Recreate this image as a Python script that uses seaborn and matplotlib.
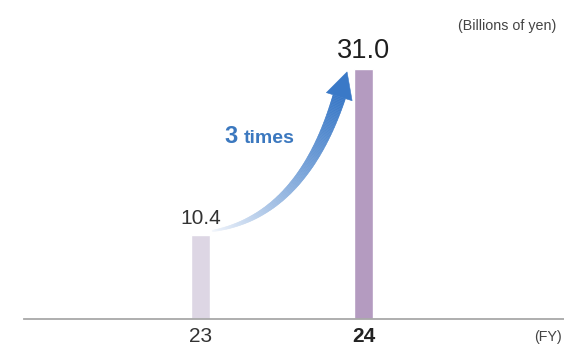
import numpy as np
import pandas as pd
import matplotlib
matplotlib.use("Agg")
import matplotlib.pyplot as plt
from matplotlib.patches import Polygon
from matplotlib.colors import to_rgb
import seaborn as sns

# --- data -------------------------------------------------------------
fiscal_years = ["23", "24"]
profit = [10.4, 31.0]
bar_colors = ["#DDD6E4", "#B49BC0"]
unit_label = "(Billions of yen)"
axis_label = "(FY)"
growth_number = "3"
growth_word = "times"

sns.set_theme(style="white")
plt.rcParams["font.family"] = ["Liberation Sans", "DejaVu Sans"]

W, H = 564, 345
fig = plt.figure(figsize=(W / 100, H / 100), dpi=100)
fig.patch.set_facecolor("white")
ax = fig.add_axes([24 / W, 26 / H, 1 - 24 / W, 319 / H])

df = pd.DataFrame({"fy": fiscal_years, "value": profit})
bar_w = 0.12
sns.barplot(data=df, x="fy", y="value", hue="fy", palette=bar_colors,
            width=bar_w, saturation=1, legend=False, ax=ax)

ax.set_xlim(-1.083, 2.23)
ax.set_ylim(0, 39.5)
ax.set_xlabel("")
ax.set_ylabel("")
ax.set_yticks([])
for side in ["top", "left", "right"]:
    ax.spines[side].set_visible(False)
ax.spines["bottom"].set_color("#A8A8A8")
ax.spines["bottom"].set_linewidth(1.3)
ax.tick_params(axis="x", length=0, pad=5.5, labelsize=15, labelcolor="#333333")
ax.get_xticklabels()[1].set_fontweight("bold")
ax.get_xticklabels()[1].set_color("#222222")

# value labels above the bars
label_sizes = [15, 19.5]
label_colors = ["#333333", "#1E1E1E"]
for i, v in enumerate(profit):
    ax.annotate(f"{v:.1f}", xy=(i, v), xytext=(0, 8), textcoords="offset points",
                ha="center", va="baseline", fontsize=label_sizes[i],
                color=label_colors[i])

# curved growth arrow with a pale-to-blue gradient, built in pixel space
fig.canvas.draw()
to_px = ax.transData.transform
to_data = ax.transData.inverted().transform

p0 = np.array(to_px((bar_w / 2 + 0.012, profit[0] + 0.5)))
p1 = np.array(to_px((0.62, profit[0] + 2.3)))
tip = np.array(to_px((0.899, profit[1] - 0.4)))
head_len, head_half = 26.0, 13.5
d = tip - p1
d /= np.linalg.norm(d)
p2 = tip - head_len * d

c_start = np.array(to_rgb("#F4F7FC"))
c_end = np.array(to_rgb("#3A79C7"))

ts = np.linspace(0, 1, 160)
pts = ((1 - ts) ** 2)[:, None] * p0 + (2 * (1 - ts) * ts)[:, None] * p1 + (ts ** 2)[:, None] * p2
tan = (2 * (1 - ts))[:, None] * (p1 - p0) + (2 * ts)[:, None] * (p2 - p1)
tan /= np.linalg.norm(tan, axis=1)[:, None]
nrm = np.column_stack([-tan[:, 1], tan[:, 0]])
half_w = 0.5 + 6.0 * ts ** 0.85
left = pts + nrm * half_w[:, None]
right = pts - nrm * half_w[:, None]

for k in range(len(ts) - 1):
    frac = ((ts[k] + ts[k + 1]) / 2) ** 0.9
    col = c_start + (c_end - c_start) * frac
    quad = np.array([left[k], left[k + 1], right[k + 1], right[k]])
    ax.add_patch(Polygon(to_data(quad), closed=True, facecolor=col,
                         edgecolor=col, linewidth=0.4, zorder=3))

n_end = np.array([-d[1], d[0]])
head = np.array([tip, p2 + n_end * head_half, p2 - n_end * head_half])
ax.add_patch(Polygon(to_data(head), closed=True, facecolor="#3A79C7",
                     edgecolor="#3A79C7", linewidth=0.4, zorder=3))

# "3 times" growth annotation
ax.text(0.144, 21.8, growth_number, fontsize=17, fontweight="bold",
        color="#3B78BF", ha="left", va="baseline")
ax.text(0.267, 21.8, growth_word, fontsize=14, fontweight="bold",
        color="#3B78BF", ha="left", va="baseline")

# unit and axis captions
fig.text(556 / W, 1 - 30 / H, unit_label, ha="right", va="baseline",
         fontsize=10.3, color="#444444")
fig.text(562 / W, 1 - 341 / H, axis_label, ha="right", va="baseline",
         fontsize=10.3, color="#444444")

fig.savefig("out.png", dpi=100)
